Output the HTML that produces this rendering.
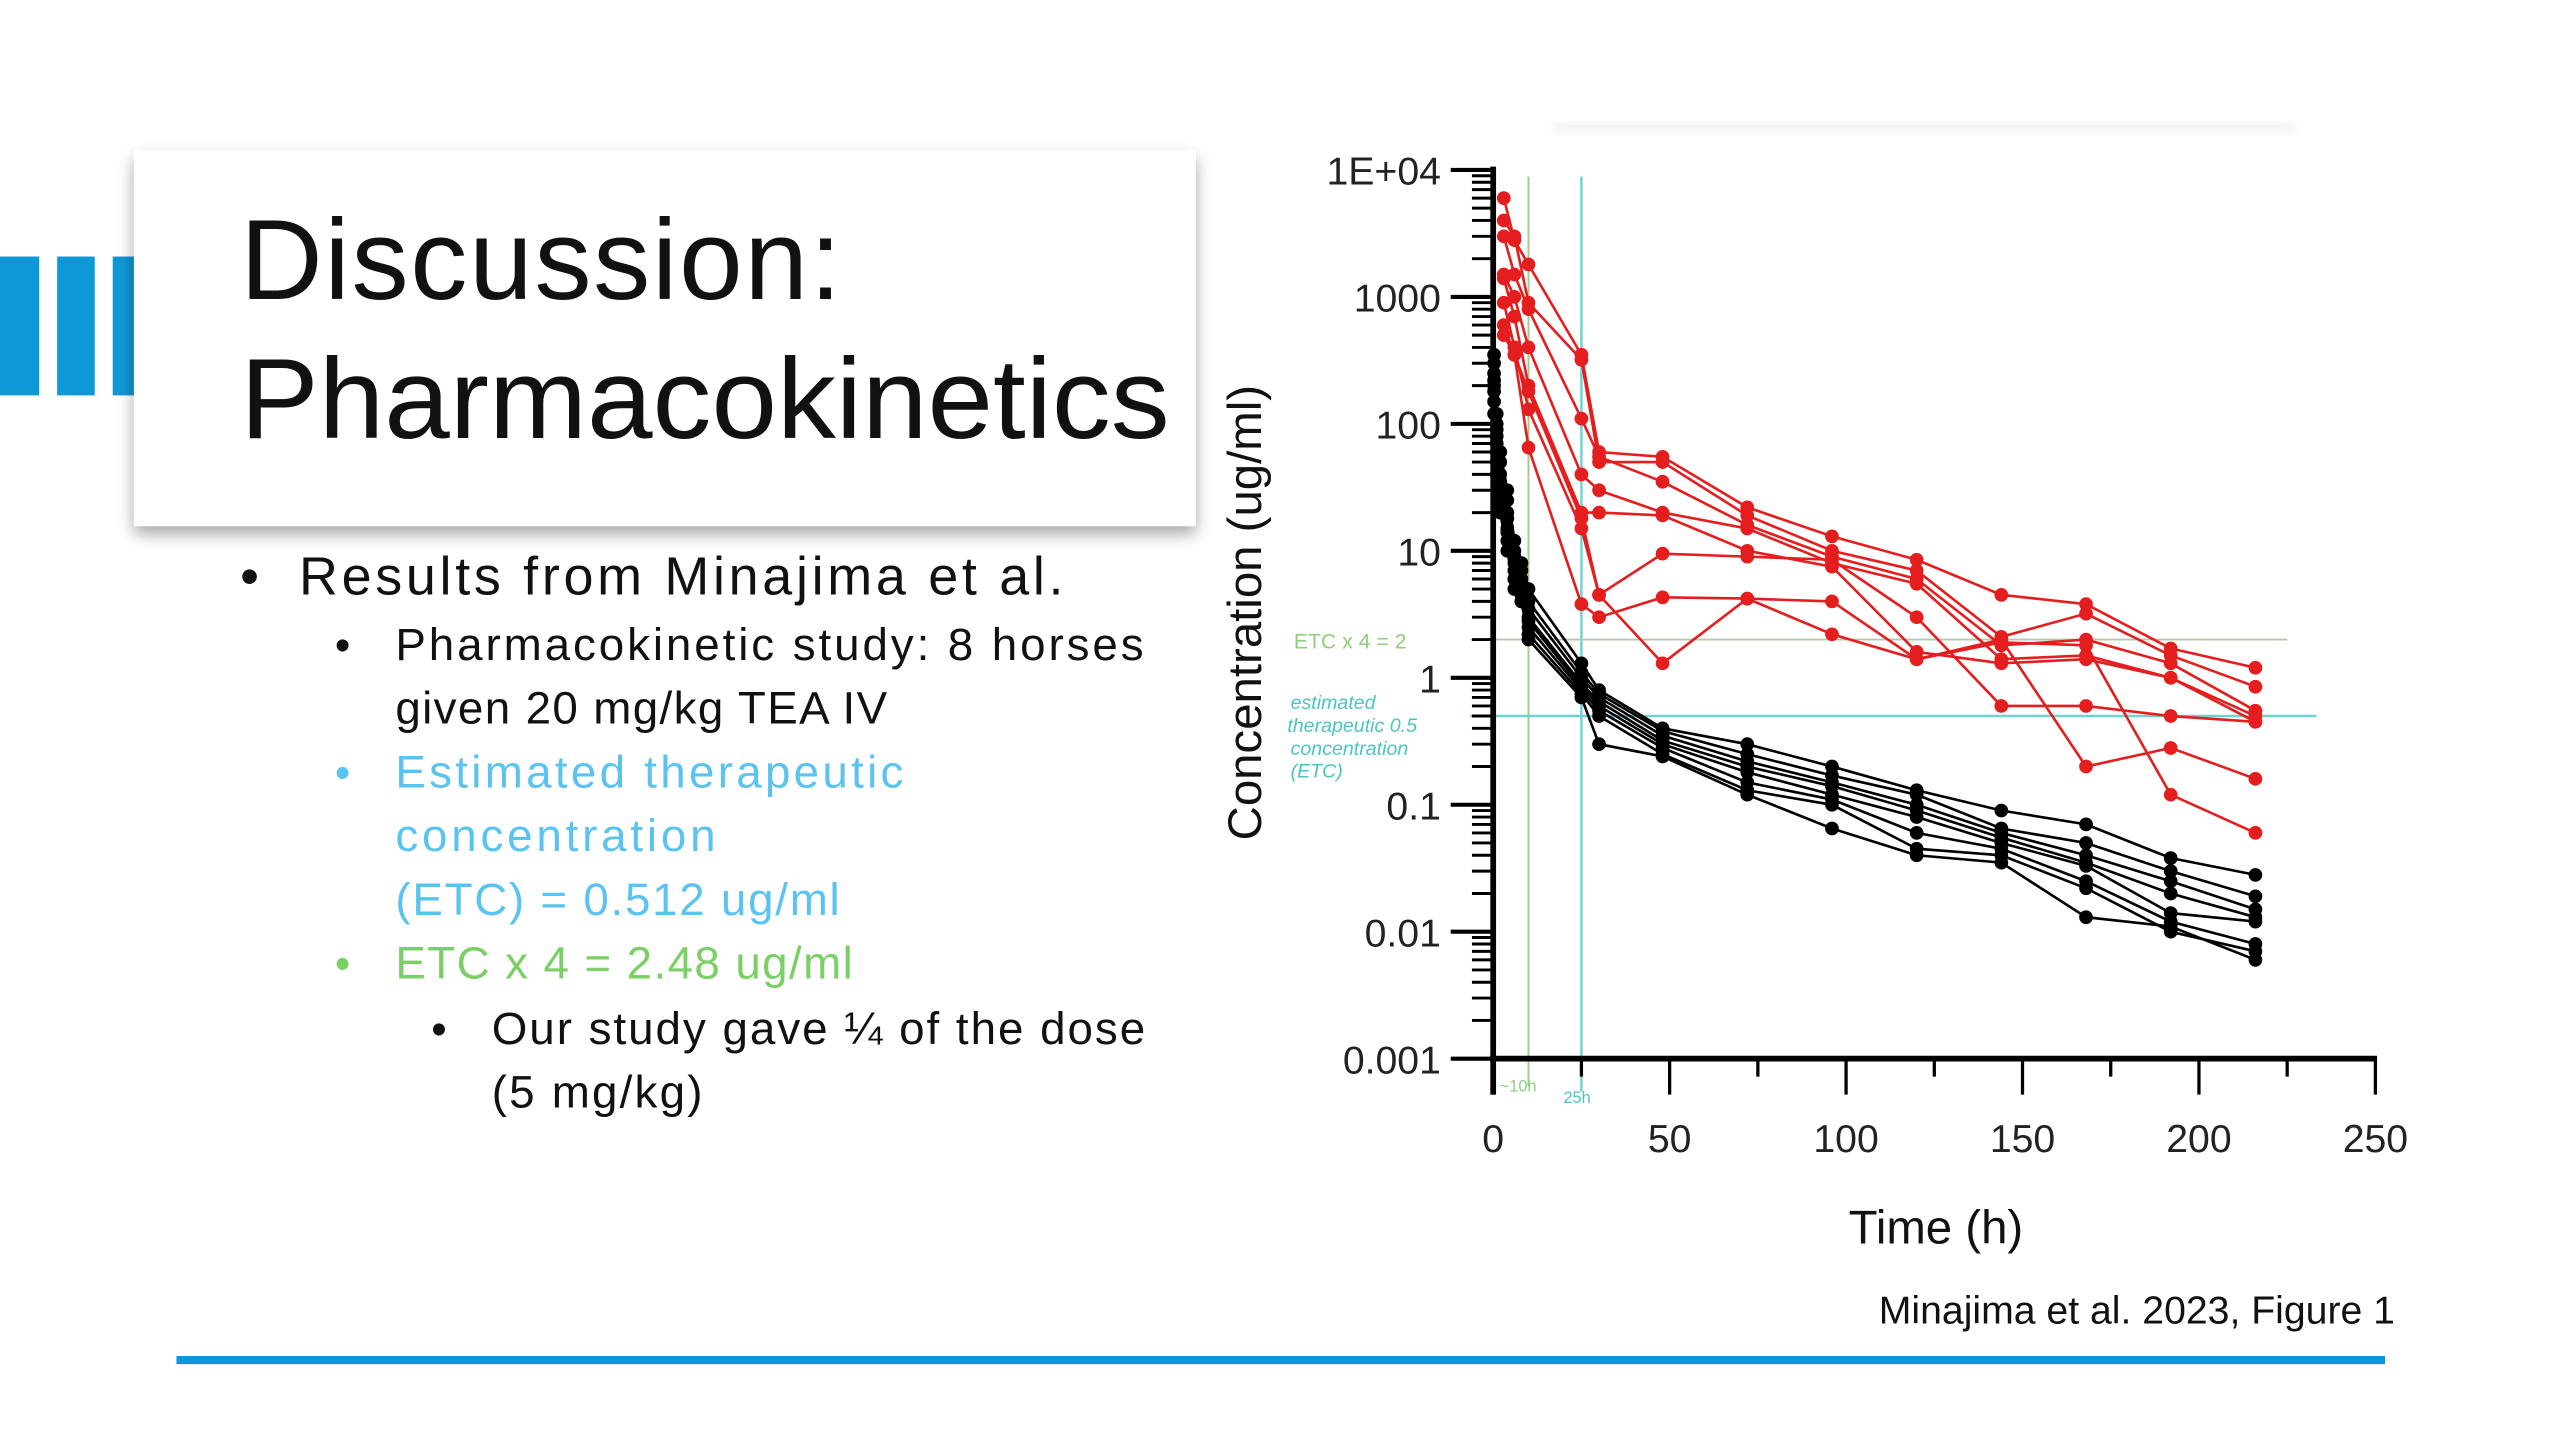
<!DOCTYPE html>
<html><head><meta charset="utf-8"><style>
html,body{margin:0;padding:0;background:#fff;}
svg{display:block;}
text{font-family:"Liberation Sans",sans-serif;}
</style></head><body>
<svg id="slide" width="2560" height="1440" viewBox="0 0 1567 881.4" xmlns="http://www.w3.org/2000/svg">
<defs>
<filter id="sh" x="-5%" y="-5%" width="115%" height="125%"><feGaussianBlur in="SourceAlpha" stdDeviation="5"/><feOffset dx="0" dy="5"/><feComponentTransfer><feFuncA type="linear" slope="0.35"/></feComponentTransfer><feMerge><feMergeNode/><feMergeNode in="SourceGraphic"/></feMerge></filter>
<filter id="blur"><feGaussianBlur stdDeviation="3"/></filter>
</defs>
<rect x="0" y="0" width="1567" height="881.4" fill="#fff"/>
<rect x="950" y="75" width="455" height="7" fill="#f3f3f3" filter="url(#blur)"/>
<g fill="#0e98d6">
<rect x="0" y="157" width="24" height="85"/><rect x="35" y="157" width="23" height="85"/><rect x="69" y="157" width="13" height="85"/>
</g>
<rect x="82" y="92" width="650" height="230" fill="#fff" filter="url(#sh)"/>
<text x="147" y="183" font-size="70" fill="#111" textLength="368">Discussion:</text>
<text x="147" y="268" font-size="70" fill="#111" textLength="569" lengthAdjust="spacingAndGlyphs">Pharmacokinetics</text>
<g>
<text x="147" y="364" font-size="33" fill="#111">•</text>
<text x="183" y="364" font-size="33" fill="#111" textLength="468">Results from Minajima et al.</text>
<text x="205" y="404" font-size="27" fill="#111">•</text>
<text x="242" y="404" font-size="28" fill="#111" textLength="458">Pharmacokinetic study: 8 horses</text>
<text x="242" y="443" font-size="28" fill="#111" textLength="301">given 20 mg/kg TEA IV</text>
<text x="205" y="482" font-size="27" fill="#5bc3ef">•</text>
<text x="242" y="482" font-size="28" fill="#5bc3ef" textLength="311">Estimated therapeutic</text>
<text x="242" y="521" font-size="28" fill="#5bc3ef" textLength="196">concentration</text>
<text x="242" y="560" font-size="28" fill="#5bc3ef" textLength="272">(ETC) = 0.512 ug/ml</text>
<text x="205" y="599" font-size="27" fill="#7ad066">•</text>
<text x="242" y="599" font-size="28" fill="#7ad066" textLength="280">ETC x 4 = 2.48 ug/ml</text>
<text x="264" y="639" font-size="27" fill="#111">•</text>
<text x="301" y="639" font-size="28" fill="#111" textLength="400">Our study gave ¼ of the dose</text>
<text x="301" y="678" font-size="28" fill="#111" textLength="129">(5 mg/kg)</text>
</g>
<text x="1466" y="810" font-size="24" fill="#111" text-anchor="end">Minajima et al. 2023, Figure 1</text>
<rect x="108" y="830" width="1352" height="5" fill="#0e98d6"/>
<g id="chart"></g>
</svg>
<script>
var redTimes=[3,6,10,25,30,48,72,96,120,144,168,192,216];
var red1=[6000,2800,1800,350,60,55,22,13,8.5,4.5,3.8,1.7,1.2];
var red2=[4000,3000,900,320,50,50,19,10,7,2.1,3.2,1.5,0.85];
var red3=[3000,1500,800,110,55,35,16,9,6,1.8,2.0,1.3,0.55];
var red4=[1500,1000,400,40,30,20,15,8,5.5,1.4,1.5,1.0,0.5];
var red5=[1400,700,200,20,20,19,10,7.5,1.6,1.3,1.4,1.0,0.45];
var red6=[900,400,130,15,4.5,9.5,9,8.5,3,0.6,0.6,0.5,0.45];
var red7=[600,350,65,3.8,3,4.3,4.2,4,1.4,2.0,0.2,0.28,0.16];
var red8=[500,350,180,18,4.5,1.3,4.2,2.2,1.4,1.9,1.8,0.12,0.06];
var blackTimes=[0.25,1,2,4,6,8,10,25,30,48,72,96,120,144,168,192,216];
var black1=[350,120,60,30,12,8,5,1.3,0.8,0.4,0.3,0.2,0.13,0.09,0.07,0.038,0.028];
var black2=[300,100,50,25,10,7,4,1.1,0.75,0.38,0.25,0.17,0.12,0.065,0.05,0.03,0.019];
var black3=[250,90,40,20,9,6,3.5,1.0,0.7,0.35,0.22,0.15,0.1,0.06,0.04,0.025,0.015];
var black4=[220,80,35,18,8,5,3,0.9,0.65,0.32,0.2,0.14,0.09,0.055,0.035,0.02,0.013];
var black5=[200,70,30,15,7,5,2.8,0.85,0.6,0.3,0.18,0.12,0.08,0.05,0.033,0.014,0.012];
var black6=[180,60,25,14,6,4.5,2.5,0.8,0.55,0.28,0.15,0.11,0.06,0.045,0.025,0.012,0.008];
var black7=[150,50,22,12,6,4,2.2,0.75,0.5,0.25,0.13,0.1,0.045,0.04,0.022,0.01,0.007];
var black8=[120,40,20,10,5,4,2,0.7,0.3,0.24,0.12,0.065,0.04,0.035,0.013,0.011,0.006];
var xTicks=[0,50,100,150,200,250];
var yTickVals=[0.001,0.01,0.1,1,10,100,1000,10000];
var yTickLabels=["0.001","0.01","0.1","1","10","100","1000","1E+04"];
var etcValue=0.5, etc4Value=2, t10=10, t25=25;

var NS="http://www.w3.org/2000/svg";
var X0=914,X1=1454,Y0=648,Y1=104;
function xS(t){return X0+(X1-X0)*t/250;}
function yS(v){return Y0-(Y0-Y1)*(Math.log10(v)+3)/7;}
var chart=document.getElementById('chart');
function mk(tag,attrs,parent){var e=document.createElementNS(NS,tag);for(var k in attrs)e.setAttribute(k,attrs[k]);(parent||chart).appendChild(e);return e;}

var l;
l=mk('line',{x1:xS(t10),x2:xS(t10),y1:108,y2:665,stroke:'#9fcf8a','stroke-width':1.2});


l=mk('line',{x1:xS(t25),x2:xS(t25),y1:108,y2:668,stroke:'#6fd3cf','stroke-width':1.5});


l=mk('line',{x1:X0-14,x2:1400,y1:yS(etc4Value),y2:yS(etc4Value),stroke:'#b8c8b0','stroke-width':1.2});


l=mk('line',{x1:X0-14,x2:1418,y1:yS(etcValue),y2:yS(etcValue),stroke:'#6fd3cf','stroke-width':1.5});



var ax=mk('line',{x1:X0,x2:X0,y1:Y1-2,y2:670,stroke:'#000','stroke-width':3.5});


ax=mk('line',{x1:X0-2,x2:X1+1,y1:Y0,y2:Y0,stroke:'#000','stroke-width':3.5});


for(var i=0;i<yTickVals.length;i++){
  var yy=yS(yTickVals[i]);
  var tk=mk('line',{x1:X0-26,x2:X0,y1:yy,y2:yy,stroke:'#000','stroke-width':2.5});
  
  
  var tl=mk('text',{x:X0-32,y:yy+9,'font-size':24,'text-anchor':'end',fill:'#222'});
  tl.textContent=yTickLabels[i];
  
  
  if(i<yTickVals.length-1){
    for(var m=2;m<=9;m++){
      var ym=yS(yTickVals[i]*m);
      var mt=mk('line',{x1:X0-13,x2:X0,y1:ym,y2:ym,stroke:'#000','stroke-width':1.8});
      
      
    }
  }
}
for(var t=0;t<=250;t+=25){
  var major=(t%50===0);
  var xt=mk('line',{x1:xS(t),x2:xS(t),y1:Y0,y2:Y0+(major?22:11),stroke:'#000','stroke-width':2});
  
  
}
for(var j=0;j<xTicks.length;j++){
  var xl=mk('text',{x:xS(xTicks[j]),y:705,'font-size':24,'text-anchor':'middle',fill:'#222'});
  xl.textContent=String(xTicks[j]);
  
  
}
var xt2=mk('text',{x:1185,y:761,'font-size':29,'text-anchor':'middle',fill:'#111'});
xt2.textContent='Time (h)';


var yt=mk('text',{x:0,y:0,'font-size':29,'text-anchor':'middle',fill:'#111',transform:'translate(772,375) rotate(-90)'});
yt.textContent='Concentration (ug/ml)';



var an=mk('text',{x:792,y:397,'font-size':13,fill:'#8fcf7a'});
an.textContent='ETC x 4 =  2';


var notes=['estimated','therapeutic  0.5','concentration','(ETC)'];
for(var n=0;n<notes.length;n++){
  var a2=mk('text',{x:n===1?788:790,y:434+n*14,'font-size':12,fill:'#4cc5c0','font-style':'italic'});
  a2.textContent=notes[n];
  
  
}
var a3=mk('text',{x:918,y:668,'font-size':10,fill:'#8fcf7a'});
a3.textContent='~10h';


var a4=mk('text',{x:957,y:675,'font-size':10,fill:'#4cc5c0'});
a4.textContent='25h';



function drawSeries(times,vals,color,name){
  var g=mk('g',{});
  
  
  var pts=[];
  for(var i=0;i<times.length;i++)pts.push(xS(times[i]).toFixed(1)+','+yS(vals[i]).toFixed(1));
  var pl=mk('polyline',{points:pts.join(' '),fill:'none',stroke:color,'stroke-width':1.6},g);
  
  
  for(var k=0;k<times.length;k++){
    var c=mk('circle',{cx:xS(times[k]),cy:yS(vals[k]),r:4.2,fill:color},g);
    
    
  }
}
var blacks=[black1,black2,black3,black4,black5,black6,black7,black8];
for(var b=0;b<blacks.length;b++)drawSeries(blackTimes,blacks[b],'#000','black-series-'+(b+1));
var reds=[red1,red2,red3,red4,red5,red6,red7,red8];
for(var r=0;r<reds.length;r++)drawSeries(redTimes,reds[r],'#e41e1e','red-series-'+(r+1));
</script>
</body></html>
